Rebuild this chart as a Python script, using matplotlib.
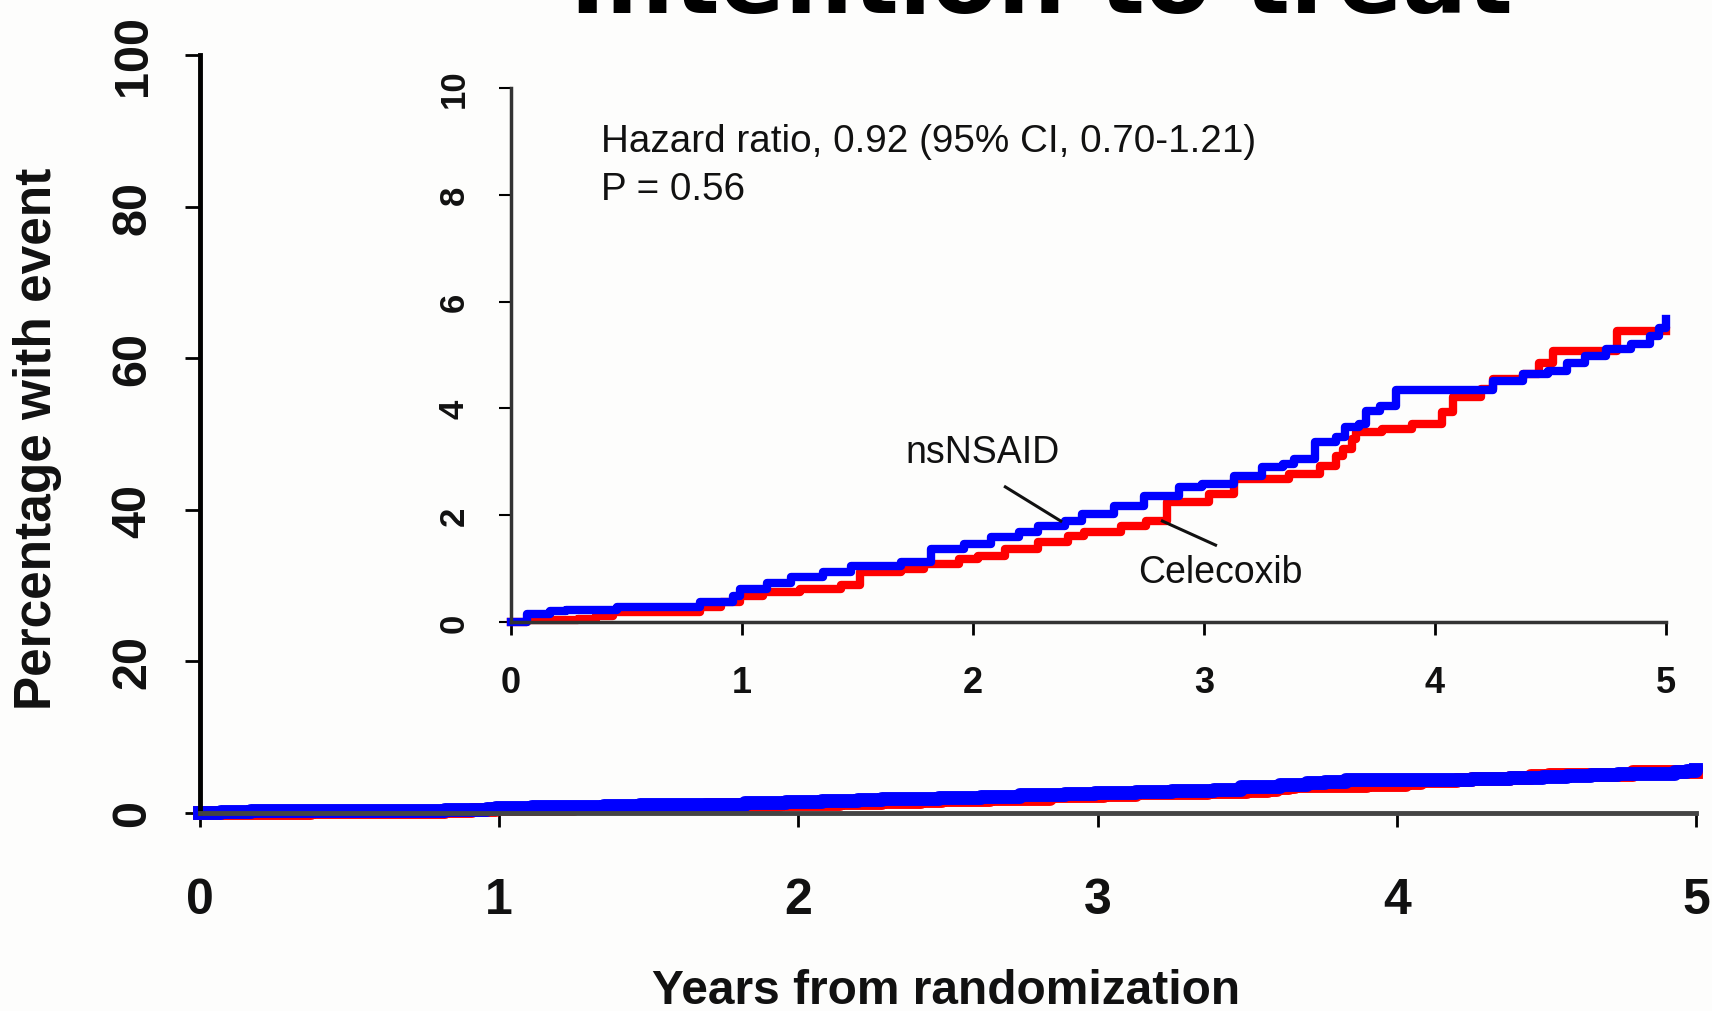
import numpy             as np
import matplotlib
matplotlib.use('Agg')
import matplotlib.pyplot as plt

# Step points (years, percent with event)
celecoxib_years = [0.00, 0.07, 0.29, 0.37, 0.44, 0.82, 0.91, 0.99, 1.09, 1.25,
                   1.43, 1.51, 1.69, 1.79, 1.94, 2.02, 2.14, 2.28, 2.41, 2.48,
                   2.64, 2.75, 2.84, 3.02, 3.13, 3.37, 3.50, 3.57, 3.60, 3.64,
                   3.66, 3.77, 3.90, 4.03, 4.08, 4.20, 4.25, 4.38, 4.45, 4.51,
                   4.79, 5.00]
celecoxib_pct   = [0.00, 0.03, 0.06, 0.11, 0.19, 0.28, 0.37, 0.49, 0.56, 0.62,
                   0.70, 0.93, 0.99, 1.09, 1.18, 1.24, 1.37, 1.50, 1.61, 1.69,
                   1.80, 1.90, 2.25, 2.40, 2.68, 2.77, 2.92, 3.10, 3.24, 3.43,
                   3.56, 3.61, 3.71, 3.93, 4.21, 4.36, 4.55, 4.64, 4.85, 5.07,
                   5.45, 5.45]

nsnsaid_years   = [0.00, 0.07, 0.17, 0.24, 0.46, 0.82, 0.96, 0.99, 1.11, 1.21,
                   1.35, 1.47, 1.69, 1.82, 1.96, 2.08, 2.20, 2.28, 2.40, 2.47,
                   2.61, 2.74, 2.89, 2.99, 3.13, 3.25, 3.34, 3.39, 3.48, 3.57,
                   3.61, 3.67, 3.70, 3.76, 3.83, 4.25, 4.38, 4.49, 4.57, 4.65,
                   4.74, 4.85, 4.93, 4.97, 5.00]
nsnsaid_pct     = [0.00, 0.15, 0.21, 0.23, 0.28, 0.37, 0.49, 0.62, 0.73, 0.84,
                   0.93, 1.05, 1.12, 1.37, 1.46, 1.59, 1.69, 1.80, 1.89, 2.02,
                   2.17, 2.36, 2.53, 2.58, 2.73, 2.90, 2.96, 3.05, 3.37, 3.46,
                   3.65, 3.71, 3.95, 4.05, 4.35, 4.51, 4.64, 4.70, 4.85, 4.98,
                   5.11, 5.20, 5.35, 5.50, 5.67]

main_xticks  = [0, 1, 2, 3, 4, 5]
main_yticks  = [0, 20, 40, 60, 80, 100]
inset_yticks = [0, 2, 4, 6, 8, 10]

title_text  = 'Intention to treat'
hazard_text = 'Hazard ratio, 0.92 (95% CI, 0.70-1.21)\nP = 0.56'

red  = '#ff0000'
blue = '#0000ff'
ink  = '#111111'

W, H = 1712, 1012
plt.rcParams['font.family'] = ['Liberation Sans', 'DejaVu Sans']

fig = plt.figure(figsize=(W / 100, H / 100), dpi=100, facecolor='#fdfdfc')

# Title, mostly cut off by the top edge
fig.text(1041 / W, 1 - 13 / H, title_text, fontsize=69, fontweight='bold',
         family='DejaVu Sans', ha='center', va='baseline', color='black')

# Main axes
ax = fig.add_axes([200 / W, 1 - 814 / H, 1496 / W, 758 / H])
ax.set_facecolor('none')
ax.step(celecoxib_years, celecoxib_pct, where='post', color=red,  lw=10, clip_on=False)
ax.step(nsnsaid_years,   nsnsaid_pct,   where='post', color=blue, lw=10, clip_on=False)
ax.set_xlim(0, 5)
ax.set_ylim(0, 100)
ax.set_xticks(main_xticks)
ax.set_yticks(main_yticks)
for side in ['top', 'right']:
    ax.spines[side].set_visible(False)
ax.spines['left'].set_linewidth(3.5)
ax.spines['left'].set_color('black')
ax.spines['bottom'].set_linewidth(3.5)
ax.spines['bottom'].set_color('#444444')
ax.tick_params(axis='x', length=10, width=2, pad=36, labelsize=36)
ax.tick_params(axis='y', length=11, width=2, pad=21, labelsize=35, labelrotation=90)
for lab in ax.get_xticklabels() + ax.get_yticklabels():
    lab.set_fontweight('bold')
    lab.set_color(ink)
for lab in ax.get_yticklabels():
    lab.set_va('center')
ax.set_xlabel('Years from randomization', fontsize=34.5, fontweight='bold', color=ink)
ax.set_ylabel('Percentage with event',    fontsize=37,   fontweight='bold', color=ink)
ax.xaxis.set_label_coords(0.499, -0.205)
ax.yaxis.set_label_coords(-0.092, 0.495)

# Inset axes
ins = fig.add_axes([511 / W, 1 - 623 / H, 1155 / W, 534 / H])
ins.set_facecolor('none')
ins.step(celecoxib_years, celecoxib_pct, where='post', color=red,  lw=6, clip_on=False)
ins.step(nsnsaid_years,   nsnsaid_pct,   where='post', color=blue, lw=6, clip_on=False)
ins.set_xlim(0, 5)
ins.set_ylim(0, 10)
ins.set_xticks(main_xticks)
ins.set_yticks(inset_yticks)
for side in ['top', 'right']:
    ins.spines[side].set_visible(False)
for side in ['left', 'bottom']:
    ins.spines[side].set_linewidth(2.5)
    ins.spines[side].set_color('#333333')
ins.tick_params(axis='x', length=9, width=2, pad=22, labelsize=26)
ins.tick_params(axis='y', length=9, width=1.5, pad=20, labelsize=25, labelrotation=90)
for lab in ins.get_xticklabels() + ins.get_yticklabels():
    lab.set_fontweight('bold')
    lab.set_color(ink)
for lab in ins.get_yticklabels():
    lab.set_va('center')

ins.text(0.39, 8.56, hazard_text, fontsize=27.8, color=ink, ha='left', va='center',
         linespacing=1.45)
ins.text(2.04, 3.18, 'nsNSAID',   fontsize=27, color=ink, ha='center', va='center')
ins.text(3.07, 0.94, 'Celecoxib', fontsize=27, color=ink, ha='center', va='center')
ins.plot([2.14, 2.38], [2.53, 1.89], color=ink, lw=2.2)
ins.plot([2.82, 3.05], [1.89, 1.44], color=ink, lw=2.2)

fig.savefig('out.png', dpi=100, facecolor=fig.get_facecolor())
